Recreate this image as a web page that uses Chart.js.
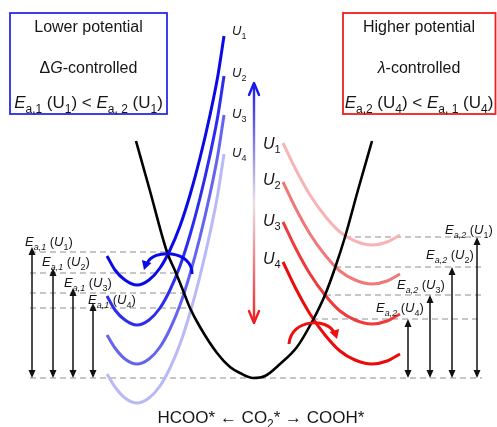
<!DOCTYPE html>
<html><head><meta charset="utf-8">
<script src="https://cdn.jsdelivr.net/npm/chart.js@4"></script>
<style>html,body{margin:0;padding:0;background:#fff}#wrap{width:497px;height:427px}</style>
</head><body><div id="wrap"><canvas id="c" width="497" height="427"></canvas></div>
<script>
// ---- data (diagram units = pixels of the reference) ----
const blueX  = [107,115,125,137,149,160,170,180,190,200,210,218,224];
const blueU1 = [256,270,280,285,280,268,250,226,195,158,115,75,36];
const blueU2 = [296,310,320,325,320,308,290,266,235,198,155,115,76];
const blueU3 = [335,348,359,364,359,347,329,305,274,237,194,154,115];
const blueU4 = [374,387,398,403,398,386,368,344,313,276,233,193,154];
const redX  = [283,295,310,325,340,355,372,387,400];
const redU1 = [143,168,195,216,232,241,245,242,235];
const redU2 = [182,207,234,255,271,280,284,281,274];
const redU3 = [222,247,274,295,311,320,324,321,314];
const redU4 = [262,287,314,335,351,360,364,361,354];
const blackX = [136,150,167,176,184,190,200,217,230,240,253,265,280,297,313,325,335,345,358,372];
const blackY = [141,191,252,273,293,308,327,353,367,373,378,376,364,347,320,295,268,237,190,141];
const leftLevels  = [252,273,293,308];   // E_a,1(U1..U4) crossing heights
const leftEnds    = [168,176,184,190];
const rightLevels = [237,267,295,319];   // E_a,2(U1..U4) crossing heights
const rightStarts = [345,335,325,312];
const baseLevel = 378;
const uLabels = ['1','2','3','4'];

const blueColors = ['#0a0ae8','#2d2df0','#6464ee','#b9b9f7'];
const redColors  = ['#f8b4b4','#f07878','#ef3b3b','#ee0a0a'];
const pts = (xs, ys) => xs.map((x,i)=>({x, y: ys[i]}));

const datasets = [];
const dashStyle = {borderColor:'#b4b4b4', borderWidth:1.6, borderDash:[6,4], pointRadius:0, showLine:true, order:10, tension:0};
leftLevels.forEach((lv,i)=>datasets.push({...dashStyle, data:[{x:30,y:lv},{x:leftEnds[i],y:lv}]}));
rightLevels.forEach((lv,i)=>datasets.push({...dashStyle, data:[{x:rightStarts[i],y:lv},{x:482,y:lv}]}));
datasets.push({...dashStyle, data:[{x:30,y:baseLevel},{x:482,y:baseLevel}]});

[blueU1,blueU2,blueU3,blueU4].forEach((ys,i)=>datasets.push({data:pts(blueX,ys), borderColor:blueColors[i], borderWidth:3, pointRadius:0, showLine:true, cubicInterpolationMode:'monotone', order:2-i*0.1}));
[redU1,redU2,redU3,redU4].forEach((ys,i)=>datasets.push({data:pts(redX,ys), borderColor:redColors[i], borderWidth:3, pointRadius:0, showLine:true, cubicInterpolationMode:'monotone', order:2-i*0.1}));
datasets.push({data:pts(blackX,blackY), borderColor:'#000', borderWidth:2.6, pointRadius:0, showLine:true, cubicInterpolationMode:'monotone', order:1});

const FAM = '"Liberation Sans", Arial, Helvetica, sans-serif';
function rich(ctx, segs, x, y, size, align, color){
  const fontFor = f => `${f.includes('i')?'italic ':''}${f.includes('s')?Math.round(size*0.68):size}px ${FAM}`;
  let w = 0;
  for (const [t,f] of segs){ ctx.font = fontFor(f); w += ctx.measureText(t).width; }
  let cx = align==='center' ? x - w/2 : x;
  ctx.textAlign='left'; ctx.textBaseline='alphabetic'; ctx.fillStyle = color || '#161616';
  for (const [t,f] of segs){ ctx.font = fontFor(f); ctx.fillText(t, cx, f.includes('s') ? y + size*0.28 : y); cx += ctx.measureText(t).width; }
}
function head(ctx, x, y, ang, len, hw){
  ctx.beginPath();
  ctx.moveTo(x,y);
  ctx.lineTo(x - len*Math.cos(ang) + hw*Math.sin(ang), y - len*Math.sin(ang) - hw*Math.cos(ang));
  ctx.lineTo(x - len*Math.cos(ang) - hw*Math.sin(ang), y - len*Math.sin(ang) + hw*Math.cos(ang));
  ctx.closePath(); ctx.fill();
}

const deco = {
  id:'deco',
  afterDatasetsDraw(chart){
    const ctx = chart.ctx, xs = chart.scales.x, ys = chart.scales.y;
    const X = v => xs.getPixelForValue(v), Y = v => ys.getPixelForValue(v);
    ctx.save();
    // boxes
    ctx.lineWidth = 1.8;
    ctx.strokeStyle = '#2a2ae8'; ctx.strokeRect(X(10),Y(13),X(167)-X(10),Y(114)-Y(13));
    ctx.strokeStyle = '#ee2020'; ctx.strokeRect(X(343),Y(13),X(495.5)-X(343),Y(114)-Y(13));
    const bc = X(88.5), rc = X(419);
    rich(ctx, [['Lower potential','']], bc, Y(32), 16, 'center');
    rich(ctx, [['\u0394',''],['G','i'],['-controlled','']], bc, Y(73), 16, 'center');
    rich(ctx, [['E','i'],['a,1','s'],[' (U',''],['1','s'],[') < ',''],['E','i'],['a, 2','s'],[' (U',''],['1','s'],[')','']], bc, Y(108), 17, 'center');
    rich(ctx, [['Higher potential','']], rc, Y(32), 16, 'center');
    rich(ctx, [['\u03bb','i'],['-controlled','']], rc, Y(73), 16, 'center');
    rich(ctx, [['E','i'],['a,2','s'],[' (U',''],['4','s'],[') < ',''],['E','i'],['a, 1','s'],[' (U',''],['4','s'],[')','']], rc, Y(108), 17, 'center');

    // U labels
    const bU = [30,72,113,152];
    bU.forEach((y,i)=>rich(ctx, [['U','i'],[uLabels[i],'s']], X(232), Y(y)+5, 13, 'left'));
    const rU = [143,179,220,258];
    rU.forEach((y,i)=>rich(ctx, [['U','i'],[uLabels[i],'s']], X(263), Y(y)+6, 16, 'left'));

    // Ea arrows
    ctx.strokeStyle = '#111'; ctx.fillStyle = '#111'; ctx.lineWidth = 1.5;
    const lx = [32,53,73,93];
    const rx = [477,452,430,408];
    const dbl = (x, top) => {
      ctx.beginPath(); ctx.moveTo(X(x), Y(top)+6); ctx.lineTo(X(x), Y(baseLevel)-6); ctx.stroke();
      head(ctx, X(x), Y(top), -Math.PI/2, 8, 3.5);
      head(ctx, X(x), Y(baseLevel), Math.PI/2, 8, 3.5);
    };
    leftLevels.forEach((lv,i)=>dbl(lx[i], lv-5));
    rightLevels.forEach((lv,i)=>dbl(rx[i], lv));

    // Ea labels
    const lpos = [[25,246],[42,266],[64,287],[88,304]];
    lpos.forEach(([x,y],i)=>rich(ctx, [['E','i'],['a,1','si'],[' (',''],['U','i'],[uLabels[i],'s'],[')','']], X(x), Y(y), 13, 'left'));
    const rpos = [[445,234],[426,259],[397,289],[376,312]];
    rpos.forEach(([x,y],i)=>rich(ctx, [['E','i'],['a,2','si'],[' (',''],['U','i'],[uLabels[i],'s'],[')','']], X(x), Y(y), 13, 'left'));

    // gradient arrow
    const gx = X(254), gt = Y(83), gb = Y(323);
    const g = ctx.createLinearGradient(0, gt, 0, gb);
    g.addColorStop(0, '#1a1ae8'); g.addColorStop(0.5, '#ecdfe6'); g.addColorStop(1, '#f02020');
    ctx.strokeStyle = g; ctx.lineWidth = 2.4; ctx.lineCap = 'round'; ctx.lineJoin='round';
    ctx.beginPath(); ctx.moveTo(gx, gt+1); ctx.lineTo(gx, gb-1); ctx.stroke();
    ctx.strokeStyle = '#1a1ae8';
    ctx.beginPath(); ctx.moveTo(gx-5, gt+12); ctx.lineTo(gx, gt); ctx.lineTo(gx+5, gt+12); ctx.stroke();
    ctx.strokeStyle = '#f02020';
    ctx.beginPath(); ctx.moveTo(gx-5, gb-12); ctx.lineTo(gx, gb); ctx.lineTo(gx+5, gb-12); ctx.stroke();

    // curved arrows
    ctx.lineWidth = 3; ctx.lineCap='butt';
    ctx.strokeStyle = '#0a0ae8'; ctx.fillStyle = '#0a0ae8';
    ctx.beginPath(); ctx.moveTo(X(192),Y(274)); ctx.bezierCurveTo(X(193),Y(250), X(152),Y(248), X(147),Y(264)); ctx.stroke();
    head(ctx, X(144), Y(270), Math.atan2(16, -5), 9, 5);
    ctx.strokeStyle = '#ee1010'; ctx.fillStyle = '#ee1010';
    ctx.beginPath(); ctx.moveTo(X(289),Y(344)); ctx.bezierCurveTo(X(291),Y(318), X(329),Y(318), X(334),Y(333)); ctx.stroke();
    head(ctx, X(337), Y(339), Math.atan2(16, 5), 9, 5);

    // bottom label
    rich(ctx, [['HCOO* \u2190 CO',''],['2','s'],['* \u2192 COOH*','']], X(261), Y(423), 17, 'center');
    ctx.restore();
  }
};

new Chart(document.getElementById('c'), {
  type:'scatter',
  data:{datasets},
  options:{
    responsive:false, animation:false, maintainAspectRatio:false,
    layout:{padding:0},
    plugins:{legend:{display:false}, tooltip:{enabled:false}},
    scales:{
      x:{type:'linear', min:0, max:497, display:false},
      y:{type:'linear', min:0, max:427, reverse:true, display:false}
    }
  },
  plugins:[deco]
});
</script></body></html>
